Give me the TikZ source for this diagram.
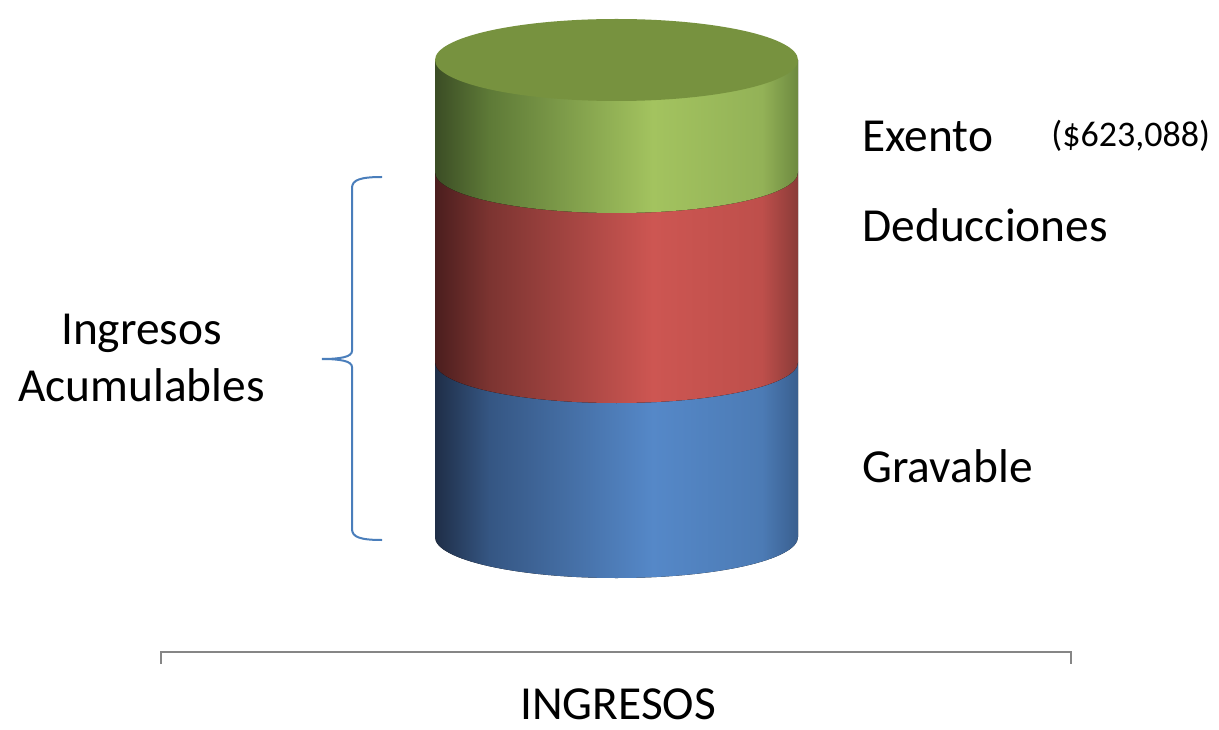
\documentclass[tikz,border=0pt]{standalone}
\usepackage{fontspec}
\setmainfont{Carlito}
\usetikzlibrary{positioning}

\definecolor{topgreen}{HTML}{77923F}
\definecolor{braceblue}{HTML}{4A7EBB}
\definecolor{axisgray}{HTML}{868686}

\pgfdeclarehorizontalshading{exentoshade}{100bp}{color(0bp)=(rgb,255:red,59;green,77;blue,37); color(25bp)=(rgb,255:red,59;green,77;blue,37); color(32.5bp)=(rgb,255:red,94;green,122;blue,55); color(55bp)=(rgb,255:red,163;green,195;blue,95); color(70bp)=(rgb,255:red,147;green,178;blue,87); color(75bp)=(rgb,255:red,110;green,138;blue,64); color(100bp)=(rgb,255:red,110;green,138;blue,64)}
\pgfdeclarehorizontalshading{deduccshade}{100bp}{color(0bp)=(rgb,255:red,75;green,30;blue,30); color(25bp)=(rgb,255:red,75;green,30;blue,30); color(32.5bp)=(rgb,255:red,124;green,52;blue,49); color(55bp)=(rgb,255:red,205;green,86;blue,82); color(70bp)=(rgb,255:red,190;green,79;blue,75); color(75bp)=(rgb,255:red,138;green,59;blue,56); color(100bp)=(rgb,255:red,138;green,59;blue,56)}
\pgfdeclarehorizontalshading{gravableshade}{100bp}{color(0bp)=(rgb,255:red,31;green,46;blue,71); color(25bp)=(rgb,255:red,31;green,46;blue,71); color(32.5bp)=(rgb,255:red,53;green,86;blue,131); color(55bp)=(rgb,255:red,85;green,136;blue,200); color(70bp)=(rgb,255:red,76;green,123;blue,181); color(75bp)=(rgb,255:red,58;green,95;blue,143); color(100bp)=(rgb,255:red,58;green,95;blue,143)}

\begin{document}
\begin{tikzpicture}[
    x=0.5pt, y=0.5pt,
    tag/.style={anchor=base west, inner sep=0pt, font=\fontsize{23.7}{28.5}\selectfont},
    smalltag/.style={tag, font=\fontsize{18}{21}\selectfont},
    bracebar/.style={draw=braceblue, line width=1pt},
    axisbar/.style={draw=axisgray, line width=1pt}
]
    \useasboundingbox (0,0) rectangle (1219,729);

    \fill[shading=gravableshade] (435,367) -- (435,192) arc[start angle=180, end angle=360, x radius=181.5, y radius=41] -- (798,367) -- cycle;
    \fill[shading=deduccshade] (435,557) -- (435,367) arc[start angle=180, end angle=360, x radius=181.5, y radius=41] -- (798,557) -- cycle;
    \fill[shading=exentoshade] (435,669) -- (435,557) arc[start angle=180, end angle=360, x radius=181.5, y radius=41] -- (798,669) -- cycle;
    \fill[topgreen] (616.5,669) ellipse[x radius=181.5, y radius=41];

    \node[tag] (exento) at (862,577) {Exento};
    \node[smalltag] (monto) at (1051,582) {(\$623,088)};
    \node[tag] (deducciones) at (862,487) {Deducciones};
    \node[tag] (gravable) at (862,247) {Gravable};
    \node[tag, anchor=base, align=center] (acumulables) at (141.5,328) {Ingresos\\Acumulables};
    \node[tag, anchor=base, text depth=0pt] (ingresos) at (618,10) {INGRESOS};

    \coordinate (braceTop) at (382,552);
    \coordinate (braceTip) at (322,370);
    \coordinate (braceBot) at (382,189);
    \draw[bracebar] (braceTop) .. controls (360,552) and (352,549) .. (352,541) -- (352,378)
        .. controls (352,372) and (340,370) .. (braceTip)
        .. controls (340,370) and (352,368) .. (352,362) -- (352,200)
        .. controls (352,192) and (360,189) .. (braceBot);

    \coordinate (axisL) at (161,65);
    \coordinate (axisR) at (1071,65);
    \draw[axisbar] (axisL) -- ++(0,12) -| (axisR);
\end{tikzpicture}
\end{document}
